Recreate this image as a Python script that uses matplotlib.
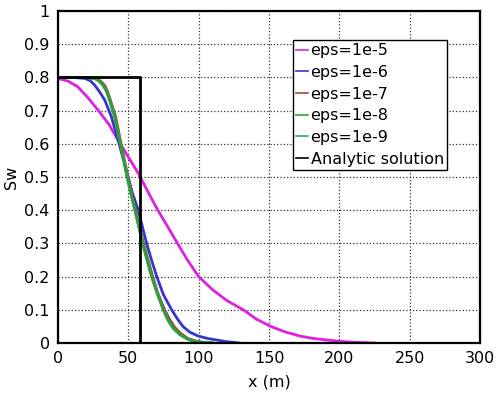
import matplotlib.pyplot as plt

# eps = 1e-5
x_e5 = [0, 7, 14, 21, 28.4, 36, 42.7, 50, 57, 64, 71, 78, 85, 92, 100, 110, 120, 131.7, 141, 150.7, 161, 172, 181, 191, 200.5, 212, 225]
s_e5 = [0.797, 0.789, 0.772, 0.74, 0.702, 0.66, 0.611, 0.56, 0.512, 0.455, 0.40, 0.35, 0.30, 0.25, 0.20, 0.16, 0.128, 0.10, 0.072, 0.051, 0.034, 0.021, 0.014, 0.009, 0.005, 0.002, 0.0]

# eps = 1e-6
x_e6 = [0, 10, 19, 23, 26, 29.5, 33.2, 37.9, 42.7, 46, 49.5, 53, 57.1, 60, 63, 66.5, 70.2, 75, 80.8, 85, 89, 94, 99.7, 106, 112.8, 120, 129]
s_e6 = [0.8, 0.8, 0.797, 0.79, 0.777, 0.757, 0.732, 0.682, 0.611, 0.56, 0.505, 0.45, 0.40, 0.35, 0.30, 0.25, 0.20, 0.145, 0.10, 0.072, 0.049, 0.032, 0.021, 0.014, 0.009, 0.004, 0.0]

# eps = 1e-7 .. 1e-9 (nearly on top of each other)
x_e7 = [0, 20, 27, 30, 33, 35, 37.2, 41, 44.3, 46.8, 49.1, 52.3, 55.3, 58, 60.8, 64, 67.3, 71, 75.8, 79.5, 83, 87.5, 92.2, 97, 102, 110]
s_e7 = [0.8, 0.8, 0.797, 0.79, 0.777, 0.76, 0.732, 0.682, 0.611, 0.56, 0.511, 0.45, 0.40, 0.35, 0.30, 0.25, 0.20, 0.15, 0.10, 0.07, 0.047, 0.028, 0.014, 0.007, 0.003, 0.0]
x_e8 = [0, 20, 26, 29, 32, 34.3, 36.7, 40.3, 43.8, 46.3, 48.6, 51.8, 54.7, 57.5, 60.2, 63.3, 66.6, 70.5, 74.9, 78.3, 82, 86.5, 91.5, 96, 101, 110]
s_e8 = [0.8, 0.8, 0.797, 0.79, 0.777, 0.76, 0.732, 0.682, 0.611, 0.56, 0.511, 0.45, 0.40, 0.35, 0.30, 0.25, 0.20, 0.15, 0.10, 0.068, 0.044, 0.026, 0.013, 0.006, 0.002, 0.0]
x_e9 = [0, 20, 26, 29, 32, 34.3, 36.7, 40.3, 43.8, 46.3, 48.6, 51.8, 54.7, 57.5, 60.2, 63.3, 66.6, 70.5, 74.9, 78.3, 82, 86.5, 91.5, 96, 101, 110]
s_e9 = [0.8, 0.8, 0.797, 0.79, 0.777, 0.76, 0.732, 0.682, 0.611, 0.56, 0.511, 0.45, 0.40, 0.35, 0.30, 0.25, 0.20, 0.15, 0.10, 0.068, 0.044, 0.026, 0.013, 0.006, 0.002, 0.0]

# analytic step
x_an = [0, 58.3, 58.3, 300]
s_an = [0.8, 0.8, 0.0, 0.0]

labels = ['eps=1e-5', 'eps=1e-6', 'eps=1e-7', 'eps=1e-8', 'eps=1e-9', 'Analytic solution']
colors = ['#e020e0', '#3535d0', '#a04545', '#30a035', '#30a0a0', 'black']

fig = plt.figure(figsize=(4.97, 3.96), dpi=100)
ax = fig.add_axes([58 / 497, 1 - 343 / 396, (480 - 58) / 497, (343 - 11) / 396])

series = [(x_e5, s_e5), (x_e6, s_e6), (x_e7, s_e7), (x_e8, s_e8), (x_e9, s_e9), (x_an, s_an)]
# green drawn last among the numerical curves, as in the picture
zorders = [2.1, 2.2, 2.3, 2.5, 2.4, 2.6]
lines = []
for (xs, ys), lab, c, z in zip(series, labels, colors, zorders):
    ln, = ax.plot(xs, ys, color=c, lw=2, label=lab, zorder=z)
    lines.append(ln)

ax.set_xlim(0, 300)
ax.set_ylim(0, 1)
ax.set_xticks(range(0, 301, 50))
ax.set_yticks([i / 10 for i in range(11)])
ax.set_yticklabels(['0'] + ['0.%d' % i for i in range(1, 10)] + ['1'])
ax.grid(True, color='#333333', linestyle=':', linewidth=0.9)
ax.tick_params(labelsize=11.5, length=0, pad=6)
for s in ax.spines.values():
    s.set_linewidth(1.6)
ax.set_xlabel('x (m)', fontsize=11.5, labelpad=6)
ax.set_ylabel('Sw', fontsize=11.5, labelpad=4)

leg = ax.legend(lines, labels, loc='upper left',
                bbox_to_anchor=((293 - 58) / 422, 1 - (40 - 11) / 332),
                fontsize=11.5, handlelength=0.75, handletextpad=0.15, borderpad=0.2,
                labelspacing=0.42, borderaxespad=0, fancybox=False, framealpha=1)
leg.get_frame().set_edgecolor('black')
leg.get_frame().set_linewidth(1.0)
for h in leg.get_lines():
    h.set_linewidth(1.2)

fig.savefig('out.png', dpi=100)
